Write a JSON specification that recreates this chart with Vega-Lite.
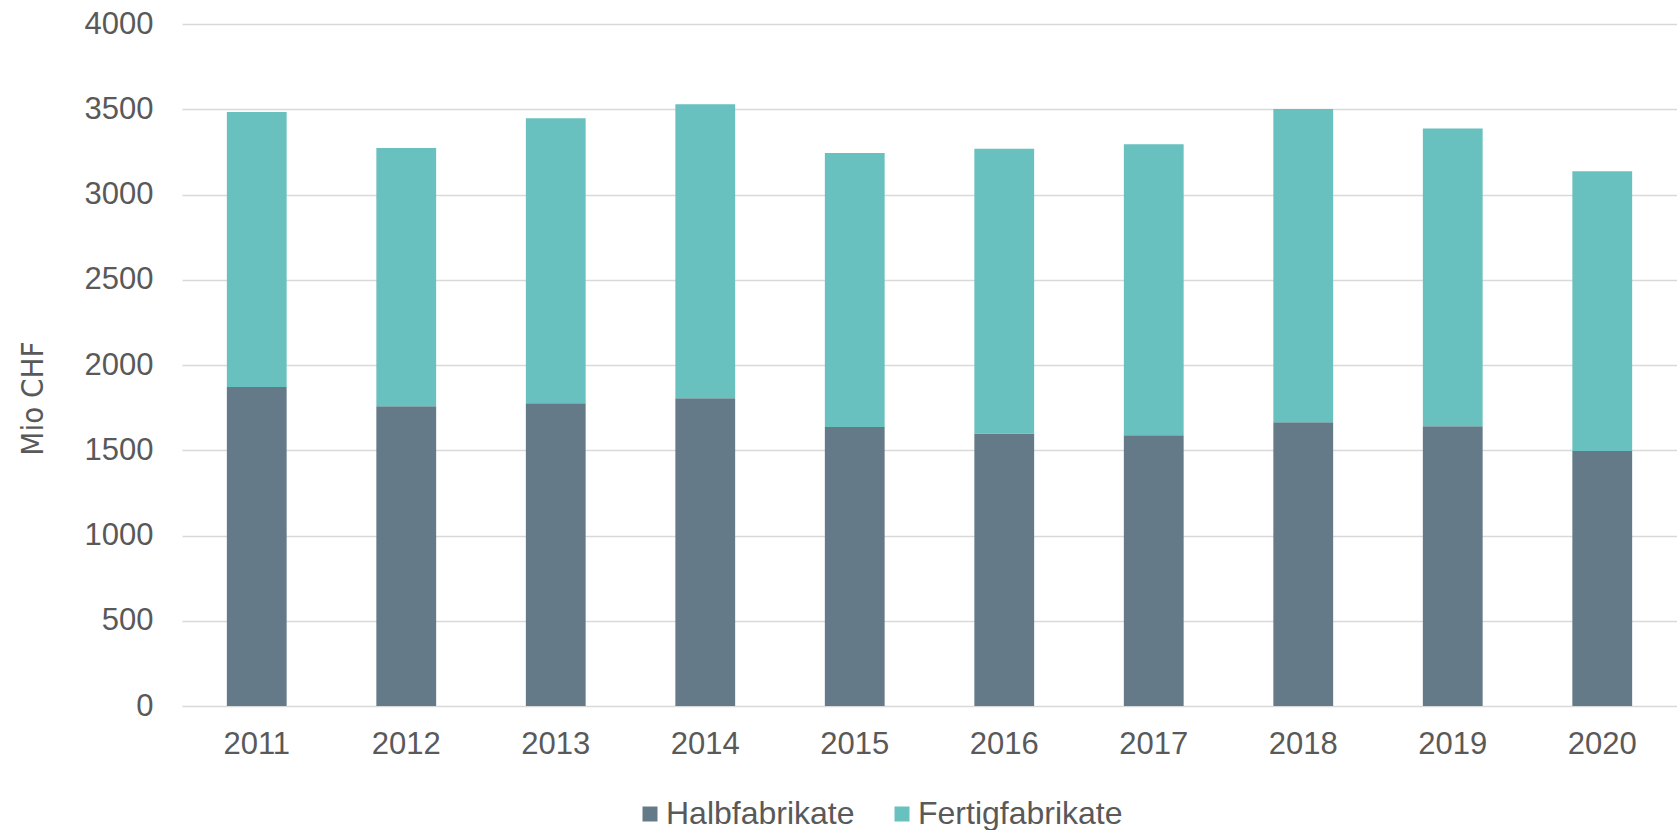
{
  "$schema": "https://vega.github.io/schema/vega-lite/v6.json",
  "width": 1495,
  "height": 682,
  "autosize": {"type": "none"},
  "padding": {"left": 182, "top": 24, "right": 0, "bottom": 124},
  "background": "white",
  "config": {
    "view": {"stroke": null},
    "font": "Liberation Sans"
  },
  "data": {
    "values": [
      {"year": "2011", "type": "Halbfabrikate", "value": 1871},
      {"year": "2011", "type": "Fertigfabrikate", "value": 1613},
      {"year": "2012", "type": "Halbfabrikate", "value": 1758},
      {"year": "2012", "type": "Fertigfabrikate", "value": 1515},
      {"year": "2013", "type": "Halbfabrikate", "value": 1775},
      {"year": "2013", "type": "Fertigfabrikate", "value": 1672},
      {"year": "2014", "type": "Halbfabrikate", "value": 1805},
      {"year": "2014", "type": "Fertigfabrikate", "value": 1724},
      {"year": "2015", "type": "Halbfabrikate", "value": 1637},
      {"year": "2015", "type": "Fertigfabrikate", "value": 1607},
      {"year": "2016", "type": "Halbfabrikate", "value": 1598},
      {"year": "2016", "type": "Fertigfabrikate", "value": 1670},
      {"year": "2017", "type": "Halbfabrikate", "value": 1588},
      {"year": "2017", "type": "Fertigfabrikate", "value": 1707},
      {"year": "2018", "type": "Halbfabrikate", "value": 1664},
      {"year": "2018", "type": "Fertigfabrikate", "value": 1838},
      {"year": "2019", "type": "Halbfabrikate", "value": 1641},
      {"year": "2019", "type": "Fertigfabrikate", "value": 1746},
      {"year": "2020", "type": "Halbfabrikate", "value": 1496},
      {"year": "2020", "type": "Fertigfabrikate", "value": 1641}
    ]
  },
  "mark": {"type": "bar"},
  "encoding": {
    "x": {
      "field": "year",
      "type": "nominal",
      "scale": {"paddingInner": 0.6, "paddingOuter": 0.3},
      "axis": {
        "title": null,
        "labelAngle": 0,
        "labelFontSize": 31,
        "labelColor": "#595959",
        "labelPadding": 23,
        "ticks": false,
        "domain": false
      }
    },
    "y": {
      "field": "value",
      "type": "quantitative",
      "stack": "zero",
      "scale": {"domain": [0, 4000], "nice": false},
      "axis": {
        "title": "Mio CHF",
        "titleFont": "DejaVu Sans Condensed, Liberation Sans",
        "titleFontSize": 31,
        "titleFontWeight": "normal",
        "titleColor": "#595959",
        "titlePadding": 35,
        "titleY": 374,
        "format": "d",
        "values": [0, 500, 1000, 1500, 2000, 2500, 3000, 3500, 4000],
        "labelFontSize": 31,
        "labelColor": "#595959",
        "labelPadding": 29,
        "ticks": false,
        "domain": false,
        "grid": true,
        "gridColor": "#d9d9d9",
        "gridWidth": 1.5
      }
    },
    "color": {
      "field": "type",
      "type": "nominal",
      "scale": {"domain": ["Halbfabrikate", "Fertigfabrikate"], "range": ["#647a89", "#68c1bf"]},
      "legend": {
        "title": null,
        "orient": "none",
        "direction": "horizontal",
        "legendX": 452,
        "legendY": 774,
        "symbolType": "square",
        "symbolSize": 225,
        "symbolStrokeWidth": 0,
        "labelFontSize": 32,
        "labelLimit": 400,
        "labelColor": "#595959",
        "labelOffset": 0,
        "columnPadding": 31
      }
    },
    "order": {"field": "type", "sort": "descending"}
  }
}
